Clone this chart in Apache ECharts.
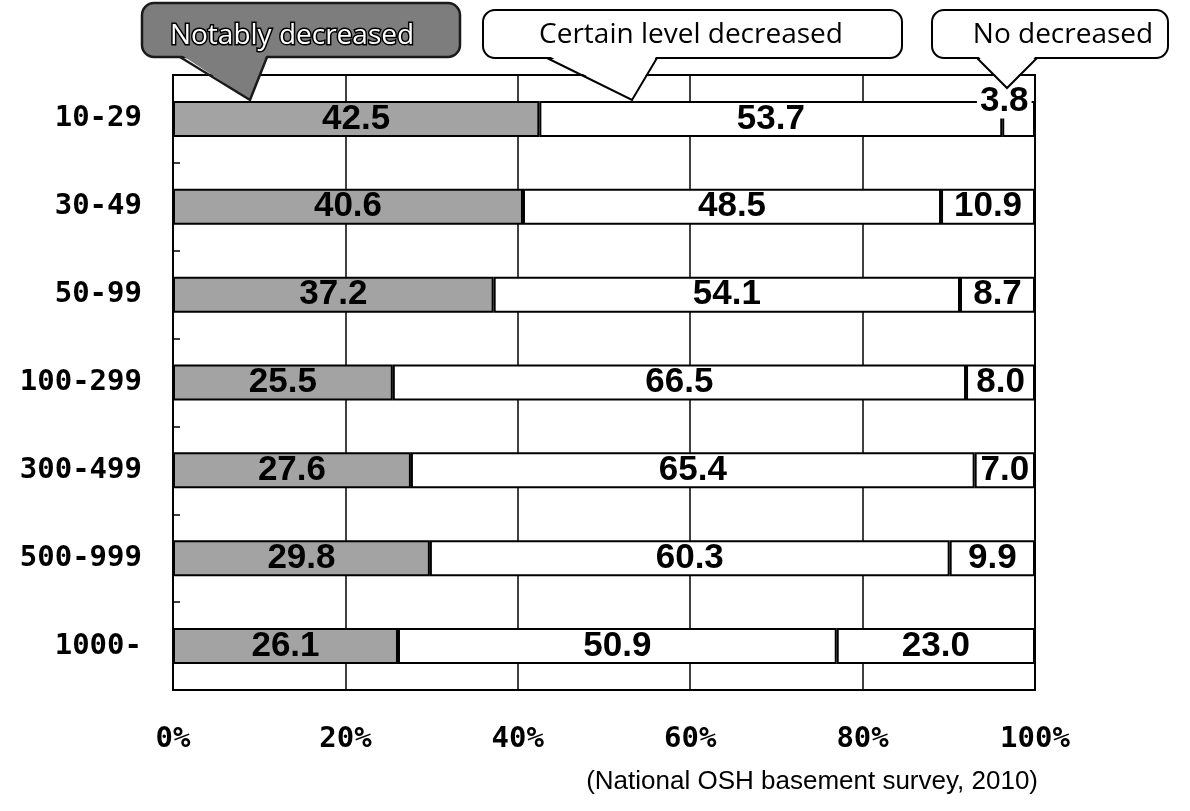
<!DOCTYPE html>
<html>
<head>
<meta charset="utf-8">
<script src="https://cdn.jsdelivr.net/npm/echarts@6/dist/echarts.min.js"></script>
<style>
html,body{margin:0;padding:0;background:#fff;}
#chart{width:1190px;height:811px;}
</style>
</head>
<body>
<div id="chart"></div>
<script>
const categories = ['10-29', '30-49', '50-99', '100-299', '300-499', '500-999', '1000-'];
const notablyDecreased = [42.5, 40.6, 37.2, 25.5, 27.6, 29.8, 26.1];
const certainLevelDecreased = [53.7, 48.5, 54.1, 66.5, 65.4, 60.3, 50.9];
const noDecreased = [3.8, 10.9, 8.7, 8.0, 7.0, 9.9, 23.0];
const seriesNames = ['Notably decreased', 'Certain level decreased', 'No decreased'];
const xTickLabels = ['0%', '20%', '40%', '60%', '80%', '100%'];
const sourceNote = '(National OSH basement survey, 2010)';

const chart = echarts.init(document.getElementById('chart'), null, {renderer: 'canvas'});

const labelFont = {
  show: true,
  color: '#000',
  fontFamily: "'Liberation Sans', Arial, sans-serif",
  fontWeight: 'bold',
  fontSize: 35,
  formatter: p => Number(p.value).toFixed(1)
};

const barBase = {
  type: 'bar',
  stack: 'total',
  barWidth: 36
};

const noDecData = noDecreased.map(v => {
  if (v < 5) {
    return {
      value: v,
      label: {
        position: [2, 0], align: 'center', verticalAlign: 'middle',
        backgroundColor: '#fff', padding: [0, 3]
      }
    };
  }
  return v;
});

const calloutFont = "'Open Sans', 'Noto Sans', sans-serif";

// Callout builder: rounded box + pointer (decoration only)
function callout(box, ptr, fill, stroke, lw) {
  return [
    {type: 'rect', z: 100, shape: {x: box[0], y: box[1], width: box[2], height: box[3], r: 12},
      style: {fill: fill, stroke: stroke, lineWidth: lw}},
    {type: 'polygon', z: 101, shape: {points: [[ptr[0][0], ptr[0][1] - 3], ptr[1], [ptr[2][0], ptr[2][1] - 3]]},
      style: {fill: fill}},
    {type: 'polyline', z: 102, shape: {points: ptr},
      style: {fill: null, stroke: stroke, lineWidth: lw}}
  ];
}

const graphics = []
  .concat(callout([142, 3, 318, 54], [[180, 57], [250, 100], [267, 57]], '#7d7d7d', '#1a1a1a', 2.5))
  .concat(callout([483, 10, 419, 48], [[547, 58], [632, 100], [657, 58]], '#fff', '#000', 2))
  .concat(callout([932, 10, 236, 48], [[977, 58], [1007, 88], [1037, 58]], '#fff', '#000', 2))
  .concat([
    {type: 'text', z: 110, x: 292, y: 36,
      style: {text: seriesNames[0], font: "28px " + calloutFont, fill: '#fff', stroke: '#000', lineWidth: 3,
        textAlign: 'center', textVerticalAlign: 'middle'}},
    {type: 'text', z: 110, x: 691, y: 35,
      style: {text: seriesNames[1], font: "28px " + calloutFont, fill: '#000',
        textAlign: 'center', textVerticalAlign: 'middle'}},
    {type: 'text', z: 110, x: 1063, y: 35,
      style: {text: seriesNames[2], font: "28px " + calloutFont, fill: '#000',
        textAlign: 'center', textVerticalAlign: 'middle'}},
    {type: 'text', z: 110, x: 1038, y: 782,
      style: {text: sourceNote, font: "26px 'Liberation Sans', Arial, sans-serif", fill: '#000',
        textAlign: 'right', textVerticalAlign: 'middle'}}
  ]);

chart.setOption({
  animation: false,
  backgroundColor: '#fff',
  grid: {left: 173, right: 155, top: 75, bottom: 121, show: true, borderColor: '#000', borderWidth: 2, containLabel: false},
  xAxis: {
    type: 'value', min: 0, max: 100, interval: 20,
    axisLine: {show: false}, axisTick: {show: false},
    splitLine: {show: true, lineStyle: {color: '#000', width: 1.5}},
    axisLabel: {
      margin: 35, color: '#000', fontSize: 29, fontWeight: 'bold',
      fontFamily: "'DejaVu Sans Mono', monospace",
      formatter: v => xTickLabels[Math.round(v / 20)]
    }
  },
  yAxis: {
    type: 'category', data: categories, inverse: true,
    axisLine: {show: false},
    axisTick: {show: true, inside: true, length: 7, lineStyle: {color: '#000', width: 1.5}},
    axisLabel: {
      margin: 31, color: '#000', fontSize: 29, fontWeight: 'bold',
      fontFamily: "'DejaVu Sans Mono', monospace"
    }
  },
  series: [
    Object.assign({}, barBase, {name: seriesNames[0], data: notablyDecreased,
      itemStyle: {color: '#a3a3a3', borderColor: '#000', borderWidth: 2},
      label: Object.assign({}, labelFont)}),
    Object.assign({}, barBase, {name: seriesNames[1], data: certainLevelDecreased,
      itemStyle: {color: '#fff', borderColor: '#000', borderWidth: 2},
      label: Object.assign({}, labelFont)}),
    Object.assign({}, barBase, {name: seriesNames[2], data: noDecData,
      itemStyle: {color: '#fff', borderColor: '#000', borderWidth: 2},
      label: Object.assign({}, labelFont)})
  ],
  graphic: graphics
});
</script>
</body>
</html>
